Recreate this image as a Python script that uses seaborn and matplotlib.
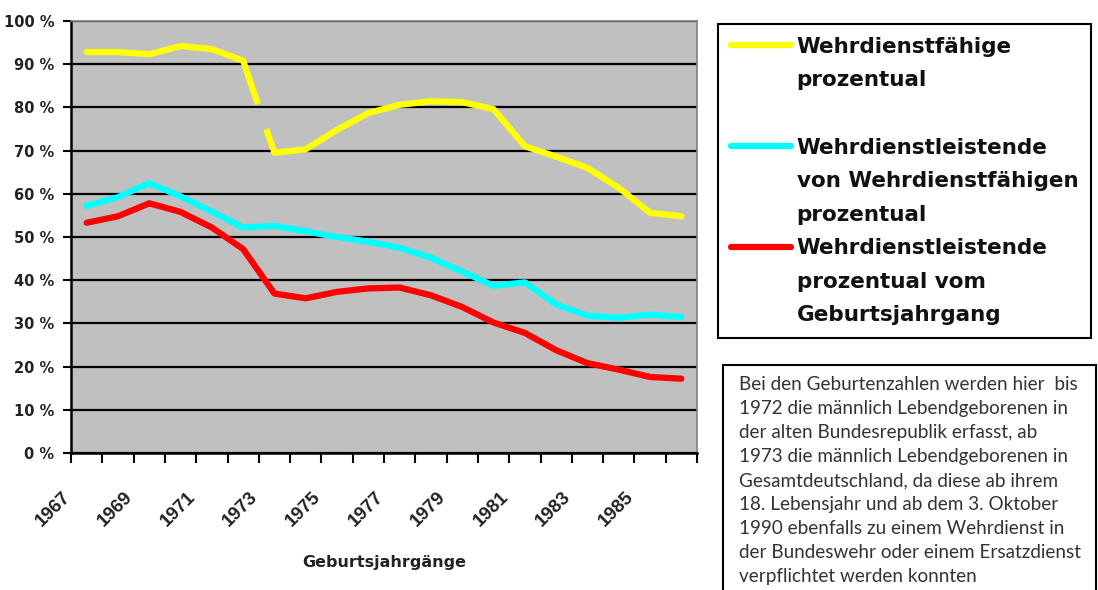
import pandas as pd
import matplotlib.pyplot as plt
import matplotlib.transforms as mtransforms
from matplotlib.lines import Line2D
from matplotlib.patches import Rectangle
import seaborn as sns

# Daten
years = list(range(1967, 1987))
faehige = [92.8, 92.8, 92.3, 94.2, 93.5, 90.8, 69.5, 70.3, 74.8, 78.7,
           80.6, 81.4, 81.2, 79.6, 71.0, 68.6, 66.0, 61.4, 55.6, 54.8]
leistende_von_faehigen = [57.2, 59.2, 62.5, 59.4, 55.9, 52.2, 52.6, 51.3, 50.0, 48.9,
                          47.5, 45.2, 42.0, 38.7, 39.5, 34.4, 31.8, 31.3, 32.0, 31.5]
leistende_vom_jahrgang = [53.3, 54.8, 57.8, 55.8, 52.2, 47.2, 36.9, 35.8, 37.3, 38.1,
                          38.3, 36.5, 33.8, 30.2, 27.8, 23.8, 20.8, 19.3, 17.6, 17.2]

series_names = ["Wehrdienstfähige prozentual",
                "Wehrdienstleistende von Wehrdienstfähigen prozentual",
                "Wehrdienstleistende prozentual vom Geburtsjahrgang"]
colors = ["#FFFF00", "#00FFFF", "#FF0000"]
legend_lines = [["Wehrdienstfähige", "prozentual", " "],
                ["Wehrdienstleistende", "von Wehrdienstfähigen", "prozentual"],
                ["Wehrdienstleistende", "prozentual vom", "Geburtsjahrgang"]]
tick_years = years[::2]
y_ticks = list(range(0, 101, 10))
break_year = 1973  # ab 1973 Gesamtdeutschland

note = ("Bei den Geburtenzahlen werden hier  bis\n"
        "1972 die männlich Lebendgeborenen in\n"
        "der alten Bundesrepublik erfasst, ab\n"
        "1973 die männlich Lebendgeborenen in\n"
        "Gesamtdeutschland, da diese ab ihrem\n"
        "18. Lebensjahr und ab dem 3. Oktober\n"
        "1990 ebenfalls zu einem Wehrdienst in\n"
        "der Bundeswehr oder einem Ersatzdienst\n"
        "verpflichtet werden konnten")

# Long-Format, gelbe Linie in zwei Abschnitte geteilt
rows = []
for name, vals in zip(series_names, [faehige, leistende_von_faehigen, leistende_vom_jahrgang]):
    for yr, v in zip(years, vals):
        seg = 1 if (name == series_names[0] and yr >= break_year) else 0
        rows.append({"Jahr": yr, "Wert": v, "Reihe": name, "Abschnitt": seg})
df = pd.DataFrame(rows)

sns.set_style("white")
plt.rcParams["lines.scale_dashes"] = False

W, H = 1098, 590
fig = plt.figure(figsize=(W / 100, H / 100), dpi=100)
ax = fig.add_axes([71 / W, (H - 453) / H, 626 / W, 432 / H])
ax.set_facecolor("#C0C0C0")

sns.lineplot(data=df, x="Jahr", y="Wert", hue="Reihe", units="Abschnitt",
             estimator=None, hue_order=series_names,
             palette=dict(zip(series_names, colors)), linewidth=4.5,
             legend=False, sort=False, ax=ax)
for ln in ax.lines:
    ln.set_solid_capstyle("round")

# Bruchstelle 1972/1973 als unterbrochenes Segment
i = years.index(break_year)
ax.plot(years[i - 1:i + 1], faehige[i - 1:i + 1], color=colors[0], lw=4.5,
        linestyle=(0, (33, 19, 300, 1)), dash_capstyle="butt")

ax.set_xlim(years[0] - 0.5, years[-1] + 0.5)
ax.set_ylim(0, 100)

# Achsen
ax.set_yticks(y_ticks)
ax.set_yticklabels([f"{v} %" for v in y_ticks], fontsize=10.5, fontweight="bold",
                   family="DejaVu Sans", color="#222222")
ax.tick_params(axis="y", direction="out", length=6, width=1.5, color="black", pad=6, left=True)
ax.yaxis.grid(True, color="black", linewidth=1.6)
ax.set_axisbelow(True)

bounds = [y - 0.5 for y in years] + [years[-1] + 0.5]
ax.set_xticks(bounds)
ax.set_xticklabels([])
ax.tick_params(axis="x", which="major", direction="out", length=7, width=1.5, color="black", bottom=True)
ax.set_xticks(tick_years, minor=True)
ax.set_xticklabels([str(y) for y in tick_years], minor=True, rotation=45, ha="right",
                   va="center", rotation_mode="anchor", fontsize=13.5, fontweight="bold",
                   family="Liberation Sans", color="#222222")
ax.tick_params(axis="x", which="minor", length=0, pad=30)
offset = mtransforms.ScaledTranslation(-0.19, 0, fig.dpi_scale_trans)
for lbl in ax.get_xticklabels(minor=True):
    lbl.set_transform(lbl.get_transform() + offset)

ax.set_xlabel("Geburtsjahrgänge", fontsize=11.5, fontweight="bold", family="DejaVu Sans",
              color="#222222", va="center")
ax.xaxis.set_label_coords(0.5, -(562 - 453) / 432)
ax.set_ylabel("")

for s in ["left", "bottom"]:
    ax.spines[s].set_color("black")
    ax.spines[s].set_linewidth(1.8)
for s in ["top", "right"]:
    ax.spines[s].set_color("#808080")
    ax.spines[s].set_linewidth(1.2)

# Legende
handles, labels = [], []
for c, lines in zip(colors, legend_lines):
    for k, txt in enumerate(lines):
        if k == 0:
            handles.append(Line2D([], [], color=c, lw=4.5, solid_capstyle="round"))
        else:
            handles.append(Line2D([], [], color="none"))
        labels.append(txt)
leg = fig.legend(handles, labels, loc="upper left", bbox_to_anchor=(718 / W, 1 - 24 / H),
                 bbox_transform=fig.transFigure, frameon=True, fancybox=False,
                 edgecolor="black", framealpha=1, borderaxespad=0,
                 prop={"family": "DejaVu Sans", "weight": "bold", "size": 15.5},
                 handlelength=2.8, handletextpad=0.25, labelspacing=0.63, borderpad=0.6)
leg.get_frame().set_linewidth(1.5)
for t in leg.get_texts():
    t.set_color("#111111")

# Hinweistext
fig.patches.append(Rectangle((723 / W, -0.1), (1096 - 723) / W, 0.1 + (H - 365) / H,
                             transform=fig.transFigure, facecolor="white",
                             edgecolor="black", linewidth=1.5, zorder=0))
fig.text(739 / W, 1 - 376 / H, note, ha="left", va="top", family="Lato", fontsize=13.6,
         color="#333333", linespacing=1.5)

fig.savefig("out.png", dpi=100)
